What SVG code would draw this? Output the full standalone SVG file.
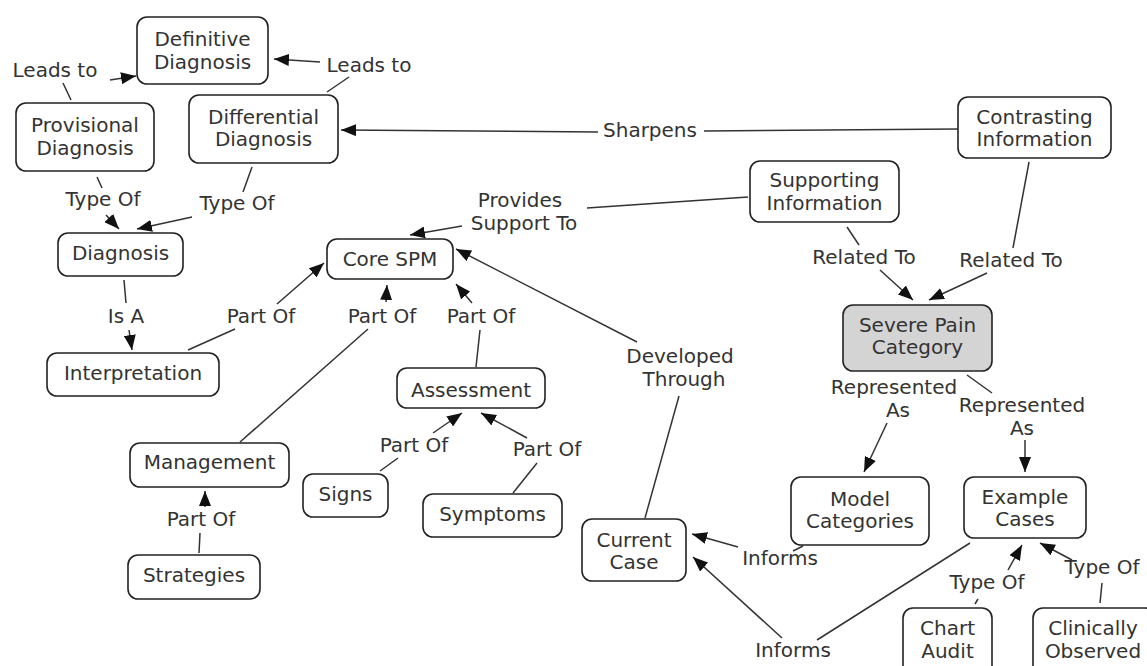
<svg xmlns="http://www.w3.org/2000/svg" width="1147" height="666" viewBox="0 0 1147 666">
<style>
.n rect{fill:#fff;stroke:#222;stroke-width:1.6}
.n.hl rect{fill:#d4d4d4}
text{font-family:"DejaVu Sans","Liberation Sans",sans-serif;font-size:20px;fill:#333;text-anchor:middle}
.c line{stroke:#333;stroke-width:1.5}
.c line.a{marker-end:url(#ah)}
</style>
<defs>
<marker id="ah" markerUnits="userSpaceOnUse" markerWidth="16" markerHeight="12" refX="15" refY="6" orient="auto">
<path d="M0,0 L15,6 L0,12 z" fill="#111"/>
</marker>
</defs>
<rect width="1147" height="666" fill="#fff"/>
<g class="c" id="connectors">
<line x1="63" y1="83" x2="71" y2="100"/>
<line x1="327" y1="92" x2="349" y2="77"/>
<line x1="97" y1="177" x2="102" y2="188"/>
<line x1="252" y1="167" x2="243" y2="192"/>
<line x1="958" y1="129" x2="704" y2="131"/>
<line x1="748" y1="197" x2="587" y2="208"/>
<line x1="124" y1="280" x2="126" y2="303"/>
<line x1="188" y1="350" x2="235" y2="329"/>
<line x1="240" y1="442" x2="368" y2="329"/>
<line x1="476" y1="367" x2="480" y2="330"/>
<line x1="645" y1="518" x2="679" y2="396"/>
<line x1="380" y1="471" x2="398" y2="458"/>
<line x1="513" y1="493" x2="537" y2="463"/>
<line x1="199" y1="553" x2="200" y2="533"/>
<line x1="847" y1="227" x2="859" y2="245"/>
<line x1="1029" y1="162" x2="1013" y2="248"/>
<line x1="967" y1="375" x2="992" y2="393"/>
<line x1="803" y1="546" x2="793" y2="551"/>
<line x1="970" y1="543" x2="817" y2="640"/>
<line x1="978" y1="599" x2="975" y2="604"/>
<line x1="1102" y1="583" x2="1100" y2="603"/>
<line class="a" x1="110" y1="80" x2="136" y2="76"/>
<line class="a" x1="320" y1="62" x2="274" y2="59"/>
<line class="a" x1="106" y1="215" x2="119" y2="229"/>
<line class="a" x1="192" y1="217" x2="137" y2="229"/>
<line class="a" x1="598" y1="132" x2="341" y2="130"/>
<line class="a" x1="462" y1="226" x2="410" y2="235"/>
<line class="a" x1="129" y1="330" x2="132" y2="350"/>
<line class="a" x1="277" y1="304" x2="324" y2="263"/>
<line class="a" x1="386" y1="302" x2="387" y2="285"/>
<line class="a" x1="472" y1="303" x2="456" y2="284"/>
<line class="a" x1="637" y1="342" x2="456" y2="249"/>
<line class="a" x1="433" y1="433" x2="462" y2="413"/>
<line class="a" x1="527" y1="438" x2="481" y2="413"/>
<line class="a" x1="205" y1="507" x2="205" y2="491"/>
<line class="a" x1="880" y1="270" x2="913" y2="300"/>
<line class="a" x1="987" y1="273" x2="929" y2="300"/>
<line class="a" x1="887" y1="423" x2="864" y2="472"/>
<line class="a" x1="1025" y1="440" x2="1025" y2="472"/>
<line class="a" x1="738" y1="547" x2="692" y2="534"/>
<line class="a" x1="782" y1="638" x2="693" y2="557"/>
<line class="a" x1="1008" y1="570" x2="1022" y2="545"/>
<line class="a" x1="1072" y1="560" x2="1040" y2="543"/>
</g>
<g id="labels">
<text x="55" y="77">Leads to</text>
<text x="369" y="72">Leads to</text>
<text x="103" y="206">Type Of</text>
<text x="237" y="210">Type Of</text>
<text x="650" y="137">Sharpens</text>
<text x="520" y="207">Provides</text>
<text x="524" y="230">Support To</text>
<text x="126" y="323">Is A</text>
<text x="261" y="323">Part Of</text>
<text x="382" y="323">Part Of</text>
<text x="481" y="323">Part Of</text>
<text x="680" y="363">Developed</text>
<text x="684" y="386">Through</text>
<text x="414" y="452">Part Of</text>
<text x="547" y="456">Part Of</text>
<text x="201" y="526">Part Of</text>
<text x="864" y="264">Related To</text>
<text x="1011" y="267">Related To</text>
<text x="894" y="394">Represented</text>
<text x="898" y="417">As</text>
<text x="1022" y="412">Represented</text>
<text x="1022" y="435">As</text>
<text x="780" y="565">Informs</text>
<text x="793" y="657">Informs</text>
<text x="987" y="589">Type Of</text>
<text x="1102" y="574">Type Of</text>
</g>
<g class="n" id="definitive"><rect x="137" y="17" width="131" height="67" rx="10"/><text x="202.5" y="46">Definitive</text><text x="202.5" y="69">Diagnosis</text></g>
<g class="n" id="provisional"><rect x="16" y="103" width="138" height="68" rx="10"/><text x="85" y="132">Provisional</text><text x="85" y="155">Diagnosis</text></g>
<g class="n" id="differential"><rect x="189" y="95" width="149" height="68" rx="10"/><text x="263.5" y="124">Differential</text><text x="263.5" y="146">Diagnosis</text></g>
<g class="n" id="diagnosis"><rect x="58" y="233" width="125" height="43" rx="10"/><text x="120.5" y="260">Diagnosis</text></g>
<g class="n" id="interpretation"><rect x="47" y="353" width="172" height="43" rx="10"/><text x="133" y="380">Interpretation</text></g>
<g class="n" id="coreSPM"><rect x="327" y="239" width="126" height="40" rx="10"/><text x="390" y="266">Core SPM</text></g>
<g class="n" id="assessment"><rect x="397" y="368" width="148" height="40" rx="10"/><text x="471" y="397">Assessment</text></g>
<g class="n" id="management"><rect x="130" y="443" width="159" height="44" rx="10"/><text x="209.5" y="469">Management</text></g>
<g class="n" id="strategies"><rect x="128" y="555" width="132" height="44" rx="10"/><text x="194" y="582">Strategies</text></g>
<g class="n" id="signs"><rect x="303" y="474" width="85" height="43" rx="10"/><text x="345.5" y="501">Signs</text></g>
<g class="n" id="symptoms"><rect x="423" y="494" width="139" height="43" rx="10"/><text x="492.5" y="521">Symptoms</text></g>
<g class="n" id="currentCase"><rect x="582" y="519" width="104" height="62" rx="10"/><text x="634" y="547">Current</text><text x="634" y="569">Case</text></g>
<g class="n" id="supporting"><rect x="750" y="161" width="149" height="61" rx="10"/><text x="824.5" y="187">Supporting</text><text x="824.5" y="210">Information</text></g>
<g class="n" id="contrasting"><rect x="958" y="97" width="153" height="61" rx="10"/><text x="1034.5" y="124">Contrasting</text><text x="1034.5" y="146">Information</text></g>
<g class="n hl" id="severePain"><rect x="843" y="305" width="149" height="66" rx="10"/><text x="917.5" y="332">Severe Pain</text><text x="917.5" y="354">Category</text></g>
<g class="n" id="modelCategories"><rect x="791" y="477" width="138" height="68" rx="10"/><text x="860" y="506">Model</text><text x="860" y="528">Categories</text></g>
<g class="n" id="exampleCases"><rect x="964" y="477" width="122" height="61" rx="10"/><text x="1025" y="504">Example</text><text x="1025" y="526">Cases</text></g>
<g class="n" id="chartAudit"><rect x="903" y="608" width="89" height="70" rx="10"/><text x="947.5" y="635">Chart</text><text x="947.5" y="658">Audit</text></g>
<g class="n" id="clinicallyObserved"><rect x="1033" y="608" width="122" height="70" rx="10"/><text x="1093" y="635">Clinically</text><text x="1093" y="658">Observed</text></g>
</svg>
